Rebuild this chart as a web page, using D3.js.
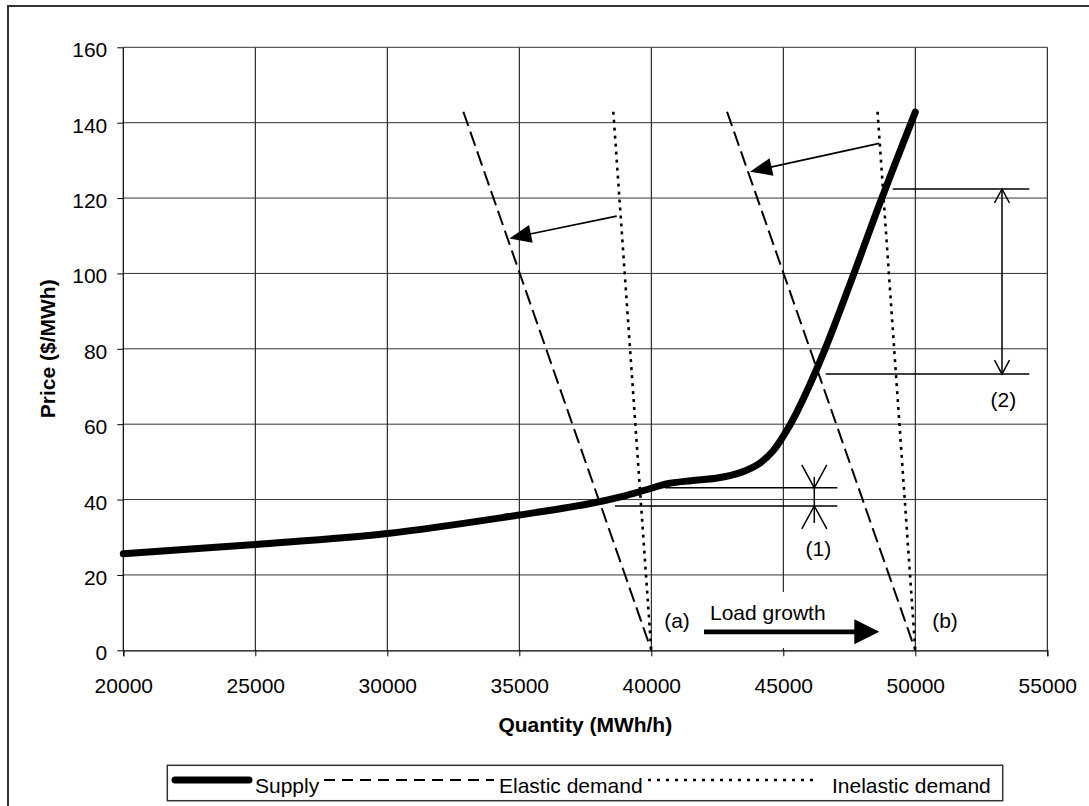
<!DOCTYPE html>
<html>
<head>
<meta charset="utf-8">
<script src="https://cdn.jsdelivr.net/npm/d3@7"></script>
<style>
  html, body { margin: 0; padding: 0; background: #fff; }
  svg { display: block; }
  text { font-family: "Liberation Sans", Arial, sans-serif; fill: #000; }
</style>
</head>
<body>
<svg id="chart" width="1089" height="806"></svg>
<script>
// ---------------- DATA ----------------
const xTicks = [20000, 25000, 30000, 35000, 40000, 45000, 50000, 55000];
const yTicks = [0, 20, 40, 60, 80, 100, 120, 140, 160];

const supplyQ = [20000, 25000, 30000, 35000, 37500, 39000, 40000, 40600, 41500, 42500, 43400, 44100, 44600, 45000, 45500, 46500, 47650, 48650, 50000];
const supplyP = [25.6, 28.1, 31.0, 35.9, 38.7, 41.0, 43.0, 44.2, 45.0, 45.7, 47.2, 49.6, 52.8, 56.8, 63.0, 78.5, 99.5, 118.5, 142.8];

const elasticAQ = [32880, 40000];
const elasticAP = [142.9, 0];
const elasticBQ = [42870, 50000];
const elasticBP = [142.9, 0];
const inelasticAQ = [38561, 40000];
const inelasticAP = [142.9, 0];
const inelasticBQ = [48570, 50000];
const inelasticBP = [142.9, 0];

const seriesNames = ["Supply", "Elastic demand", "Inelastic demand"];

// annotations (data coordinates)
const shiftArrowA = [[38690, 115.2], [34621, 109.3]];
const shiftArrowB = [[48636, 134.5], [43739, 127.0]];
const loadArrow = [[41996, 4.9], [48636, 4.9]];
const bracket1Lines = [[[40519, 43.1], [47046, 43.1]], [[38625, 38.3], [47046, 38.3]]];
const bracket1X = 46174;
const bracket2Lines = [[[49144, 122.4], [54318, 122.4]], [[46606, 73.3], [54318, 73.3]]];
const bracket2X = 53284;
const labels = [
  {t: "(1)", q: 46326, p: 24.9},
  {t: "(2)", q: 53333, p: 64.5},
  {t: "(a)", q: 40974, p: 5.9},
  {t: "(b)", q: 51125, p: 5.9}
];
const loadLabel = {t: "Load growth", q: 42223, p: 8.0};

// ---------------- LAYOUT ----------------
const svg = d3.select("#chart");
const L = 123.3, R = 1047.3, T = 47.3, B = 650.3;
const x = d3.scaleLinear().domain([20000, 55000]).range([L, R]);
const y = d3.scaleLinear().domain([0, 160]).range([B, T]);
const FS = 21;

// outer frame
svg.append("rect").attr("x", 8).attr("y", 6).attr("width", 1200).attr("height", 900)
  .attr("fill", "#fff").attr("stroke", "#333").attr("stroke-width", 2);

// gridlines
const g = svg.append("g");
g.selectAll(".vg").data(xTicks.slice(1)).enter().append("line")
  .attr("x1", d => x(d)).attr("x2", d => x(d)).attr("y1", T).attr("y2", B)
  .attr("stroke", "#000").attr("stroke-width", 1);
g.selectAll(".hg").data(yTicks.slice(1)).enter().append("line")
  .attr("x1", L).attr("x2", R).attr("y1", d => y(d)).attr("y2", d => y(d))
  .attr("stroke", "#333").attr("stroke-width", 1);

// axes
const xAxis = d3.axisBottom(x).tickValues(xTicks).tickSize(6).tickPadding(22).tickFormat(d3.format("d"));
const yAxis = d3.axisLeft(y).tickValues(yTicks).tickSize(6).tickPadding(10).tickFormat(d3.format("d"));
const gx = svg.append("g").attr("transform", `translate(0,${B})`).call(xAxis);
const gy = svg.append("g").attr("transform", `translate(${L},0)`).call(yAxis);
[gx, gy].forEach(a => {
  a.select(".domain").attr("stroke", "#000").attr("stroke-width", 1.2);
  a.selectAll(".tick line").attr("stroke", "#000");
  a.selectAll("text").style("font-size", FS + "px").style("font-family", "Liberation Sans, Arial, sans-serif").attr("fill", "#000");
});
gx.selectAll(".tick text").attr("dy", "0.71em");
gy.selectAll(".tick text").attr("dy", "0.45em");
gy.select(".domain").attr("d", `M0,${T}V${B}`);

// axis titles
svg.append("text").attr("x", (L + R) / 2).attr("y", 732).attr("text-anchor", "middle")
  .style("font-size", FS + "px").style("font-weight", "bold").text("Quantity (MWh/h)");
svg.append("text").attr("transform", `translate(55,${(T + B) / 2}) rotate(-90)`).attr("text-anchor", "middle")
  .style("font-size", FS + "px").style("font-weight", "bold").text("Price ($/MWh)");

// white box behind load growth
svg.append("rect").attr("x", 700).attr("y", 592).attr("width", 185).attr("height", 56).attr("fill", "#fff");

// series
const line = d3.line().x(d => x(d[0])).y(d => y(d[1]));
const zip = (a, b) => a.map((v, i) => [v, b[i]]);
const dashStyle = "15,6", dotStyle = "3,5";
[[elasticAQ, elasticAP], [elasticBQ, elasticBP]].forEach(([q, p]) => {
  svg.append("path").attr("d", line(zip(q, p))).attr("fill", "none").attr("stroke", "#000")
    .attr("stroke-width", 2).attr("stroke-dasharray", dashStyle);
});
[[inelasticAQ, inelasticAP], [inelasticBQ, inelasticBP]].forEach(([q, p]) => {
  svg.append("path").attr("d", line(zip(q, p))).attr("fill", "none").attr("stroke", "#000")
    .attr("stroke-width", 2.6).attr("stroke-dasharray", dotStyle);
});
const supplyLine = d3.line().x(d => x(d[0])).y(d => y(d[1])).curve(d3.curveCatmullRom.alpha(0.5));
svg.append("path").attr("d", supplyLine(zip(supplyQ, supplyP)))
  .attr("fill", "none").attr("stroke", "#000").attr("stroke-width", 7).attr("stroke-linecap", "round")
  .attr("stroke-linejoin", "round");

// helpers for arrows
function filledArrow(from, to, headLen, halfW, sw) {
  const x1 = x(from[0]), y1 = y(from[1]), x2 = x(to[0]), y2 = y(to[1]);
  const dx = x2 - x1, dy = y2 - y1, len = Math.hypot(dx, dy);
  const ux = dx / len, uy = dy / len;
  const bx = x2 - ux * headLen, by = y2 - uy * headLen;
  svg.append("line").attr("x1", x1).attr("y1", y1).attr("x2", bx + ux * 2).attr("y2", by + uy * 2)
    .attr("stroke", "#000").attr("stroke-width", sw);
  svg.append("path").attr("d", `M${x2},${y2}L${bx - uy * halfW},${by + ux * halfW}L${bx + uy * halfW},${by - ux * halfW}Z`)
    .attr("fill", "#000");
}
function openHead(tx, ty, dir, len, halfW) {
  svg.append("path").attr("d", `M${tx - halfW},${ty + dir * len}L${tx},${ty}L${tx + halfW},${ty + dir * len}`)
    .attr("fill", "none").attr("stroke", "#000").attr("stroke-width", 1.5);
}
function hline(seg) {
  svg.append("line").attr("x1", x(seg[0][0])).attr("x2", x(seg[1][0]))
    .attr("y1", y(seg[0][1])).attr("y2", y(seg[1][1])).attr("stroke", "#000").attr("stroke-width", 1.5);
}

filledArrow(shiftArrowA[0], shiftArrowA[1], 22, 9, 1.6);
filledArrow(shiftArrowB[0], shiftArrowB[1], 22, 9, 1.6);
filledArrow(loadArrow[0], loadArrow[1], 25, 12.5, 4.7);

// bracket (2)
bracket2Lines.forEach(hline);
{
  const bx = x(bracket2X), t = y(bracket2Lines[0][0][1]), b = y(bracket2Lines[1][0][1]);
  svg.append("line").attr("x1", bx).attr("x2", bx).attr("y1", t).attr("y2", b).attr("stroke", "#000").attr("stroke-width", 1.5);
  openHead(bx, t, 1, 14, 7.5);
  openHead(bx, b, -1, 14, 7.5);
}
// bracket (1)
bracket1Lines.forEach(hline);
{
  const bx = x(bracket1X), t = y(bracket1Lines[0][0][1]), b = y(bracket1Lines[1][0][1]);
  svg.append("line").attr("x1", bx).attr("x2", bx).attr("y1", t - 11).attr("y2", b + 17).attr("stroke", "#000").attr("stroke-width", 1.5);
  openHead(bx, t, -1, 23, 12.5);
  openHead(bx, b, 1, 23, 12.5);
}

// labels
labels.forEach(l => {
  svg.append("text").attr("x", x(l.q)).attr("y", y(l.p)).attr("text-anchor", "middle")
    .style("font-size", FS + "px").text(l.t);
});
svg.append("text").attr("x", x(loadLabel.q)).attr("y", y(loadLabel.p))
  .style("font-size", FS + "px").text(loadLabel.t);

// legend
const lg = svg.append("g");
lg.append("rect").attr("x", 167.3).attr("y", 765.3).attr("width", 835.4).attr("height", 35.4)
  .attr("fill", "#fff").attr("stroke", "#333").attr("stroke-width", 1.5);
const legendItems = [
  {name: seriesNames[0], x1: 175, x2: 249, tx: 255, w: 7, dash: null, cap: "round"},
  {name: seriesNames[1], x1: 324, x2: 494, tx: 499, w: 2, dash: "11,7", cap: "butt"},
  {name: seriesNames[2], x1: 648, x2: 818, tx: 832, w: 2.6, dash: "3,6", cap: "butt"}
];
legendItems.forEach(it => {
  const ln = lg.append("line").attr("x1", it.x1).attr("x2", it.x2).attr("y1", 780).attr("y2", 780)
    .attr("stroke", "#000").attr("stroke-width", it.w).attr("stroke-linecap", it.cap);
  if (it.dash) ln.attr("stroke-dasharray", it.dash);
  lg.append("text").attr("x", it.tx).attr("y", 793).style("font-size", FS + "px").text(it.name);
});
</script>
</body>
</html>
